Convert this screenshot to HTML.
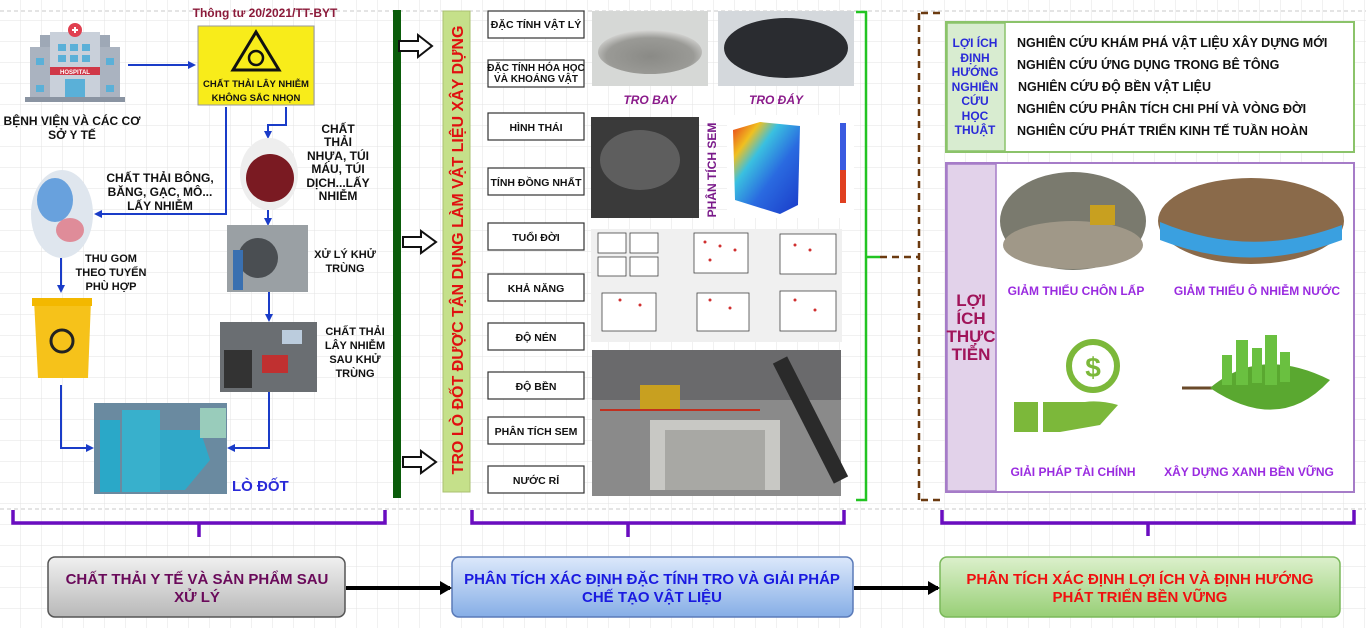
<!DOCTYPE html>
<html><head><meta charset="utf-8"><style>
html,body{margin:0;padding:0;background:#fff}
svg{display:block}
text{font-family:"Liberation Sans",sans-serif;font-weight:bold}
.nar{font-family:"Liberation Sans Narrow","Liberation Sans",sans-serif}
</style></head><body>
<svg width="1366" height="628" viewBox="0 0 1366 628" xmlns="http://www.w3.org/2000/svg">
<defs>
<pattern id="g" width="21" height="21" patternUnits="userSpaceOnUse"><path d="M21 0V21H0" fill="none" stroke="#e3e3e3" stroke-width="1"/></pattern>
<marker id="ab" markerWidth="8" markerHeight="8" refX="6" refY="4" orient="auto" markerUnits="userSpaceOnUse"><path d="M0,0L8,4L0,8z" fill="#1a3cc8"/></marker>
<marker id="ak" markerWidth="12" markerHeight="14" refX="10" refY="7" orient="auto" markerUnits="userSpaceOnUse"><path d="M0,0L12,7L0,14z" fill="#000"/></marker>
<linearGradient id="gg" x1="0" y1="0" x2="0" y2="1"><stop offset="0" stop-color="#f0f0f0"/><stop offset="1" stop-color="#b8b8b8"/></linearGradient>
<linearGradient id="gb" x1="0" y1="0" x2="0" y2="1"><stop offset="0" stop-color="#dce8fb"/><stop offset="1" stop-color="#86aee6"/></linearGradient>
<linearGradient id="gr" x1="0" y1="0" x2="0" y2="1"><stop offset="0" stop-color="#dcf0cc"/><stop offset="1" stop-color="#98cf76"/></linearGradient>
<radialGradient id="ash" cx="0.5" cy="0.6" r="0.6"><stop offset="0" stop-color="#8a8a86"/><stop offset="0.7" stop-color="#9a9a96"/><stop offset="1" stop-color="#d8d8d6"/></radialGradient>
<linearGradient id="cube" x1="0" y1="0" x2="1" y2="1"><stop offset="0" stop-color="#e83a1a"/><stop offset="0.2" stop-color="#f0c020"/><stop offset="0.35" stop-color="#3ac0e0"/><stop offset="0.6" stop-color="#2a6ae0"/><stop offset="1" stop-color="#1a3ac8"/></linearGradient>
</defs>
<rect width="1366" height="628" fill="#fff"/>
<rect width="1366" height="628" fill="url(#g)"/>
<line x1="0" y1="11" x2="1366" y2="11" stroke="#c8c8c8" stroke-dasharray="4,3"/>
<line x1="0" y1="509" x2="1366" y2="509" stroke="#c8c8c8" stroke-dasharray="4,3"/>

<g>
<rect x="40" y="35" width="70" height="62" fill="#9ea8b6"/>
<rect x="30" y="47" width="90" height="50" fill="#aab3c0"/>
<rect x="50" y="32" width="50" height="66" fill="#c9d0da"/>
<circle cx="75" cy="30" r="7" fill="#e04050"/><path d="M72 30h6M75 27v6" stroke="#fff" stroke-width="2"/>
<rect x="50" y="67" width="50" height="8" fill="#d03848"/>
<text x="75" y="74" font-size="6" fill="#fff" text-anchor="middle">HOSPITAL</text>
<g fill="#5ab0d8"><rect x="58" y="44" width="8" height="7"/><rect x="70" y="44" width="8" height="7"/><rect x="82" y="44" width="8" height="7"/><rect x="58" y="55" width="8" height="7"/><rect x="70" y="55" width="8" height="7"/><rect x="82" y="55" width="8" height="7"/><rect x="36" y="58" width="8" height="7"/><rect x="106" y="58" width="8" height="7"/><rect x="36" y="85" width="8" height="7"/><rect x="106" y="85" width="8" height="7"/><rect x="65" y="79" width="20" height="18"/></g>
<rect x="25" y="97" width="100" height="5" fill="#8a94a2"/>
</g>
<text font-size="12" fill="#111" text-anchor="middle"><tspan x="72" y="125">BỆNH VIỆN VÀ CÁC CƠ</tspan><tspan x="72" y="139">SỞ Y TẾ</tspan></text>
<line x1="128" y1="65" x2="194" y2="65" stroke="#1a3cc8" stroke-width="2" marker-end="url(#ab)"/>
<text x="265" y="17" font-size="12" fill="#8b1a3a" text-anchor="middle">Thông tư 20/2021/TT-BYT</text>
<rect x="198" y="26" width="116" height="79" fill="#f8ec1a" stroke="#999" stroke-width="1"/>
<path d="M256 32L279 70H233z" fill="none" stroke="#111" stroke-width="3"/>
<circle cx="256" cy="58" r="7" fill="none" stroke="#111" stroke-width="2.5"/>
<text font-size="9.5" fill="#111" text-anchor="middle"><tspan x="256" y="87">CHẤT THẢI LÂY NHIỄM</tspan><tspan x="256" y="101">KHÔNG SẮC NHỌN</tspan></text>
<g fill="none" stroke="#1a3cc8" stroke-width="2">
<path d="M226 107V214H96" marker-end="url(#ab)"/>
<path d="M286 107V125H268V137" marker-end="url(#ab)"/>
<path d="M268 210V224" marker-end="url(#ab)"/>
<path d="M61 258V291" marker-end="url(#ab)"/>
<path d="M269 292V320" marker-end="url(#ab)"/>
<path d="M61 385V448H92" marker-end="url(#ab)"/>
<path d="M269 392V448H229" marker-end="url(#ab)"/>
</g>
<ellipse cx="269" cy="174" rx="29" ry="36" fill="#eee"/>
<ellipse cx="270" cy="178" rx="24" ry="24" fill="#7a1a22"/>
<ellipse cx="62" cy="214" rx="31" ry="44" fill="#dfe6ee"/>
<ellipse cx="55" cy="200" rx="18" ry="22" fill="#4a90d8" opacity="0.8"/>
<ellipse cx="70" cy="230" rx="14" ry="12" fill="#e05060" opacity="0.6"/>
<text font-size="12" fill="#111" text-anchor="middle"><tspan x="338" y="133">CHẤT</tspan><tspan x="338" y="146">THẢI</tspan><tspan x="338" y="160">NHỰA, TÚI</tspan><tspan x="338" y="173">MÁU, TÚI</tspan><tspan x="338" y="187">DỊCH...LẤY</tspan><tspan x="338" y="200">NHIỄM</tspan></text>
<text font-size="12" fill="#111" text-anchor="middle"><tspan x="160" y="182">CHẤT THẢI BÔNG,</tspan><tspan x="160" y="196">BĂNG, GẠC, MÔ...</tspan><tspan x="160" y="210">LẤY NHIỄM</tspan></text>
<rect x="227" y="225" width="81" height="67" fill="#9aa0a4"/>
<circle cx="258" cy="258" r="20" fill="#4a4e52"/><rect x="233" y="250" width="10" height="40" fill="#3a70b0"/>
<text font-size="11" fill="#111" text-anchor="middle"><tspan x="345" y="258">XỬ LÝ KHỬ</tspan><tspan x="345" y="272">TRÙNG</tspan></text>
<text font-size="11" fill="#111" text-anchor="middle"><tspan x="111" y="262">THU GOM</tspan><tspan x="111" y="276">THEO TUYẾN</tspan><tspan x="111" y="290">PHÙ HỢP</tspan></text>
<path d="M34 300H91L88 378H38z" fill="#f6c21a"/><rect x="32" y="298" width="60" height="8" fill="#f3b800"/>
<circle cx="62" cy="341" r="11" fill="none" stroke="#222" stroke-width="3"/>
<rect x="220" y="322" width="97" height="70" fill="#6a6e72"/>
<rect x="224" y="350" width="28" height="38" fill="#333"/><rect x="262" y="355" width="26" height="18" fill="#c03030"/><rect x="282" y="330" width="20" height="14" fill="#bcd"/>
<text font-size="11" fill="#111" text-anchor="middle"><tspan x="355" y="335">CHẤT THẢI</tspan><tspan x="355" y="349">LÂY NHIỄM</tspan><tspan x="355" y="363">SAU KHỬ</tspan><tspan x="355" y="377">TRÙNG</tspan></text>
<rect x="94" y="403" width="133" height="91" fill="#6a8aa0"/>
<rect x="100" y="420" width="20" height="72" fill="#2aa8c8"/><rect x="122" y="410" width="38" height="82" fill="#38b0cc"/><path d="M160 430L200 430L210 460L185 490L160 490z" fill="#30a8c8"/><rect x="200" y="408" width="26" height="30" fill="#9cb"/>
<text x="232" y="491" font-size="15" fill="#2a2ad8">LÒ ĐỐT</text>

<rect x="393" y="10" width="8" height="488" fill="#0a5c0a"/>
<g fill="#fff" stroke="#111" stroke-width="2">
<path d="M399 41H418V35L432 46L418 57V51H399z"/>
<path d="M403 237H421V231L436 242L421 253V247H403z"/>
<path d="M403 457H421V451L436 462L421 473V467H403z"/>
</g>
<rect x="443" y="11" width="27" height="481" fill="#c5e08a" stroke="#aac070"/>
<text transform="translate(463,250) rotate(-90)" font-size="16" fill="#e01010" text-anchor="middle">TRO LÒ ĐỐT ĐƯỢC TẬN DỤNG LÀM VẬT LIỆU XÂY DỰNG</text>

<g fill="#fff" stroke="#333" stroke-width="1.2">
<rect x="488" y="11" width="96" height="27"/><rect x="488" y="60" width="96" height="27"/><rect x="488" y="113" width="96" height="27"/><rect x="488" y="168" width="96" height="27"/><rect x="488" y="223" width="96" height="27"/><rect x="488" y="274" width="96" height="27"/><rect x="488" y="323" width="96" height="27"/><rect x="488" y="372" width="96" height="27"/><rect x="488" y="417" width="96" height="27"/><rect x="488" y="466" width="96" height="27"/>
</g>
<g font-size="10.5" fill="#111" text-anchor="middle">
<text x="536" y="28">ĐẶC TÍNH VẬT LÝ</text>
<text x="536" y="71" font-size="10">ĐẶC TÍNH HÓA HỌC</text><text x="536" y="82" font-size="10">VÀ KHOÁNG VẬT</text>
<text x="536" y="131">HÌNH THÁI</text>
<text x="536" y="186">TÍNH ĐỒNG NHẤT</text>
<text x="536" y="241">TUỔI ĐỜI</text>
<text x="536" y="292">KHẢ NĂNG</text>
<text x="536" y="341">ĐỘ NÉN</text>
<text x="536" y="390">ĐỘ BỀN</text>
<text x="536" y="435">PHÂN TÍCH SEM</text>
<text x="536" y="484">NƯỚC RỈ</text>
</g>
<rect x="592" y="11" width="116" height="75" fill="#d6d8d6"/><ellipse cx="650" cy="52" rx="52" ry="22" fill="url(#ash)"/>
<rect x="718" y="11" width="136" height="75" fill="#d4d8dc"/><ellipse cx="786" cy="48" rx="62" ry="30" fill="#2a2c30"/>
<text x="650" y="104" font-size="12" font-style="italic" fill="#8a1a8a" text-anchor="middle">TRO BAY</text>
<text x="776" y="104" font-size="12" font-style="italic" fill="#8a1a8a" text-anchor="middle">TRO ĐÁY</text>
<rect x="591" y="117" width="108" height="101" fill="#3a3a3a"/><ellipse cx="640" cy="160" rx="40" ry="30" fill="#777" opacity="0.6"/>
<text transform="translate(716,170) rotate(-90)" font-size="12" fill="#7a1a8a" text-anchor="middle">PHÂN TÍCH SEM</text>
<rect x="727" y="115" width="127" height="103" fill="#fff"/>
<path d="M733 130L760 122L800 126L798 205L780 214L735 200z" fill="url(#cube)"/><rect x="840" y="123" width="6" height="80" fill="#3a5ae0"/><rect x="840" y="170" width="6" height="33" fill="#e04020"/>
<rect x="591" y="229" width="251" height="113" fill="#f0f0f0"/>
<g fill="#fff" stroke="#444" stroke-width="0.8">
<rect x="598" y="233" width="28" height="20"/><rect x="630" y="233" width="28" height="20"/><rect x="598" y="257" width="28" height="19"/><rect x="630" y="257" width="28" height="19"/>
<rect x="694" y="233" width="54" height="40"/><rect x="780" y="234" width="56" height="40"/>
<rect x="602" y="293" width="54" height="38"/><rect x="697" y="293" width="52" height="38"/><rect x="780" y="291" width="56" height="40"/>
</g>
<g fill="#d03030"><circle cx="705" cy="242" r="1.5"/><circle cx="720" cy="246" r="1.5"/><circle cx="735" cy="250" r="1.5"/><circle cx="710" cy="260" r="1.5"/><circle cx="795" cy="245" r="1.5"/><circle cx="810" cy="250" r="1.5"/><circle cx="620" cy="300" r="1.5"/><circle cx="640" cy="305" r="1.5"/><circle cx="710" cy="300" r="1.5"/><circle cx="730" cy="308" r="1.5"/><circle cx="795" cy="300" r="1.5"/><circle cx="815" cy="310" r="1.5"/></g>
<rect x="592" y="350" width="249" height="146" fill="#8a8a8a"/>
<rect x="592" y="350" width="249" height="50" fill="#6a6a6c"/>
<rect x="640" y="385" width="40" height="25" fill="#c8a020"/><rect x="650" y="420" width="130" height="70" fill="#c8c8c4"/><rect x="665" y="430" width="100" height="60" fill="#a8a8a4"/><path d="M780 360L841 480" stroke="#2a2a2a" stroke-width="16"/><path d="M600 410H760" stroke="#c03020" stroke-width="2"/>

<path d="M856 12H866V257H880M866 257V500H856" fill="none" stroke="#22c422" stroke-width="2.5"/>
<g fill="none" stroke="#6b3a10" stroke-width="2.5" stroke-dasharray="7,5"><path d="M880 257H918"/><path d="M919 13V500"/><path d="M921 13H945"/><path d="M921 500H940"/></g>

<rect x="946" y="22" width="408" height="130" fill="#fff" stroke="#8bc36a" stroke-width="2"/>
<rect x="947" y="23" width="58" height="128" fill="#d8ecd0" stroke="#8bc36a" stroke-width="1.5"/>
<text font-size="12" fill="#2a2ad8" text-anchor="middle"><tspan x="975" y="47">LỢI ÍCH</tspan><tspan x="975" y="62">ĐỊNH</tspan><tspan x="975" y="76">HƯỚNG</tspan><tspan x="975" y="91">NGHIÊN</tspan><tspan x="975" y="105">CỨU</tspan><tspan x="975" y="120">HỌC</tspan><tspan x="975" y="134">THUẬT</tspan></text>
<g font-size="12.5" fill="#111">
<text x="1017" y="47">NGHIÊN CỨU KHÁM PHÁ VẬT LIỆU XÂY DỰNG MỚI</text>
<text x="1017" y="69">NGHIÊN CỨU ỨNG DỤNG TRONG BÊ TÔNG</text>
<text x="1018" y="91">NGHIÊN CỨU ĐỘ BỀN VẬT LIỆU</text>
<text x="1017" y="113">NGHIÊN CỨU PHÂN TÍCH CHI PHÍ VÀ VÒNG ĐỜI</text>
<text x="1017" y="135">NGHIÊN CỨU PHÁT TRIỂN KINH TẾ TUẦN HOÀN</text>
</g>
<rect x="946" y="163" width="408" height="329" fill="#fff" stroke="#a67cc8" stroke-width="2"/>
<rect x="947" y="164" width="49" height="327" fill="#e2d2ea" stroke="#a67cc8" stroke-width="1.5"/>
<text font-size="17" fill="#a0145a" text-anchor="middle"><tspan x="971" y="306">LỢI</tspan><tspan x="971" y="324">ÍCH</tspan><tspan x="971" y="342">THỰC</tspan><tspan x="971" y="360">TIỄN</tspan></text>
<ellipse cx="1073" cy="221" rx="73" ry="49" fill="#7a7a6e"/><ellipse cx="1073" cy="245" rx="70" ry="24" fill="#a09888"/><rect x="1090" y="205" width="25" height="20" fill="#c8a020"/>
<ellipse cx="1251" cy="221" rx="93" ry="43" fill="#8a6a4a"/><path d="M1160 222Q1250 260 1342 225V240Q1250 275 1160 240z" fill="#3aa0e0"/>
<text x="1076" y="295" font-size="12" fill="#9a2be0" text-anchor="middle">GIẢM THIỂU CHÔN LẤP</text>
<text x="1257" y="295" font-size="12" fill="#9a2be0" text-anchor="middle">GIẢM THIỂU Ô NHIỄM NƯỚC</text>
<circle cx="1093" cy="366" r="24" fill="none" stroke="#7cb83a" stroke-width="6"/>
<text x="1093" y="377" font-size="28" fill="#7cb83a" text-anchor="middle">$</text>
<rect x="1014" y="402" width="24" height="30" fill="#7cb83a"/><path d="M1043 402H1085Q1100 400 1118 405L1100 425L1060 432H1043z" fill="#7cb83a"/>
<path d="M1182 388H1215" stroke="#6a4a2a" stroke-width="3"/><path d="M1210 388Q1260 345 1330 380Q1280 435 1210 388z" fill="#5aa830"/>
<g fill="#6ac040"><rect x="1222" y="355" width="10" height="30"/><rect x="1236" y="340" width="12" height="45"/><rect x="1252" y="348" width="10" height="35"/><rect x="1265" y="335" width="12" height="50"/><rect x="1280" y="352" width="10" height="30"/></g>
<text x="1073" y="476" font-size="12" fill="#9a2be0" text-anchor="middle">GIẢI PHÁP TÀI CHÍNH</text>
<text x="1249" y="476" font-size="12" fill="#9a2be0" text-anchor="middle">XÂY DỰNG XANH BỀN VỮNG</text>

<g fill="none" stroke="#6a0dc0" stroke-width="3.5">
<path d="M13 510V523H385V510M199 523V537"/>
<path d="M472 510V523H844V510M628 523V537"/>
<path d="M942 510V523H1354V510M1148 523V536"/>
</g>

<rect x="48" y="557" width="297" height="60" rx="7" fill="url(#gg)" stroke="#555" stroke-width="1.5"/>
<rect x="452" y="557" width="401" height="60" rx="7" fill="url(#gb)" stroke="#5a7ab8" stroke-width="1.5"/>
<rect x="940" y="557" width="400" height="60" rx="7" fill="url(#gr)" stroke="#7ab85a" stroke-width="1.5"/>
<line x1="346" y1="588" x2="450" y2="588" stroke="#000" stroke-width="4" marker-end="url(#ak)"/>
<line x1="854" y1="588" x2="938" y2="588" stroke="#000" stroke-width="4" marker-end="url(#ak)"/>
<text class="nar" font-size="15" fill="#6a0a5a" text-anchor="middle"><tspan x="197" y="584">CHẤT THẢI Y TẾ VÀ SẢN PHẨM SAU</tspan><tspan x="197" y="602">XỬ LÝ</tspan></text>
<text class="nar" font-size="15" fill="#1a1ae0" text-anchor="middle"><tspan x="652" y="584">PHÂN TÍCH XÁC ĐỊNH ĐẶC TÍNH TRO VÀ GIẢI PHÁP</tspan><tspan x="652" y="602">CHẾ TẠO VẬT LIỆU</tspan></text>
<text class="nar" font-size="15" fill="#f01010" text-anchor="middle"><tspan x="1140" y="584">PHÂN TÍCH XÁC ĐỊNH LỢI ÍCH VÀ ĐỊNH HƯỚNG</tspan><tspan x="1140" y="602">PHÁT TRIỂN BỀN VỮNG</tspan></text>
</svg>
</body></html>
